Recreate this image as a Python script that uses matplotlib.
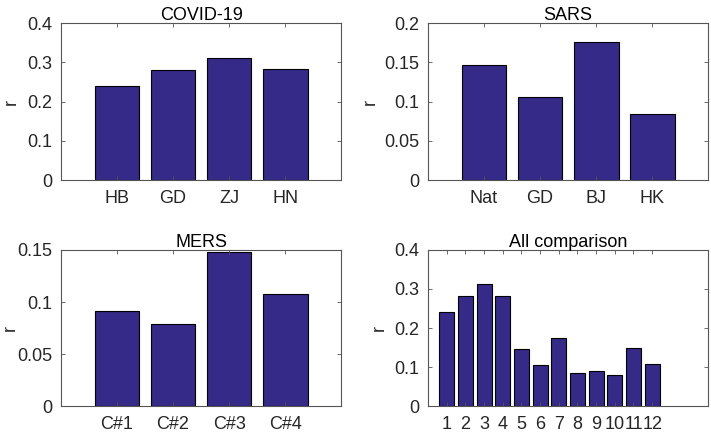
import numpy as np
import matplotlib as mpl
mpl.use('Agg')
import matplotlib.pyplot as plt

font_size = 13
mpl.rc('font', family='Liberation Sans')

# values
covid_labels = ['HB', 'GD', 'ZJ', 'HN']
covid_r = [0.240, 0.281, 0.312, 0.282]

sars_labels = ['Nat', 'GD', 'BJ', 'HK']
sars_r = [0.147, 0.106, 0.1755, 0.084]

mers_labels = ['C#1', 'C#2', 'C#3', 'C#4']
mers_r = [0.091, 0.079, 0.148, 0.108]

all_labels = [str(i) for i in range(1, 13)]
all_r = covid_r + sars_r + mers_r

bar_color = '#352A87'
axis_gray = '#262626'

fig = plt.figure(figsize=(7.11, 4.36), dpi=100)

# axes boxes [left, bottom, width, height] in figure fractions
boxes = [
    [0.0858, 0.587, 0.394, 0.360],
    [0.602, 0.587, 0.394, 0.360],
    [0.0858, 0.068, 0.394, 0.359],
    [0.602, 0.068, 0.394, 0.359],
]
# where the 'r' label sits, in axes fraction
ylab_x = [-0.146, -0.175, -0.152, -0.143]

panels = [
    ("COVID-19", covid_labels, covid_r, 0.4, 0.1),
    ("SARS", sars_labels, sars_r, 0.2, 0.05),
    ("MERS", mers_labels, mers_r, 0.15, 0.05),
    ("All comparison", all_labels, all_r, 0.4, 0.1),
]

for box, lx, (title, labels, vals, ymax, ystep) in zip(boxes, ylab_x, panels):
    ax = fig.add_axes(box)
    x = np.arange(1, len(vals) + 1)
    ax.bar(x, vals, 0.8, color=bar_color, edgecolor='black', linewidth=0.8)
    ax.set_xlim(0, len(vals) + 1 if len(vals) == 4 else len(vals) + 3)
    ax.set_ylim(0, ymax)
    ax.set_xticks(x)
    ax.set_xticklabels(labels)
    yt = np.round(np.arange(0, ymax + ystep / 2, ystep), 3)
    ax.set_yticks(yt)
    ax.set_yticklabels(['0' if v == 0 else ('%g' % v) for v in yt])
    ax.set_title(title, fontsize=font_size, color='black', pad=2)
    ax.set_ylabel('r', fontsize=font_size, color=axis_gray)
    ax.yaxis.set_label_coords(lx, 0.5)
    ax.tick_params(direction='in', top=True, right=True, length=3,
                   width=0.6, colors='#555555', labelcolor=axis_gray,
                   labelsize=font_size)
    ax.tick_params(axis='x', pad=7)
    ax.tick_params(axis='y', pad=6)
    for sp in ax.spines.values():
        sp.set_color('#555555')
        sp.set_linewidth(0.8)

fig.savefig('out.png', dpi=100)
